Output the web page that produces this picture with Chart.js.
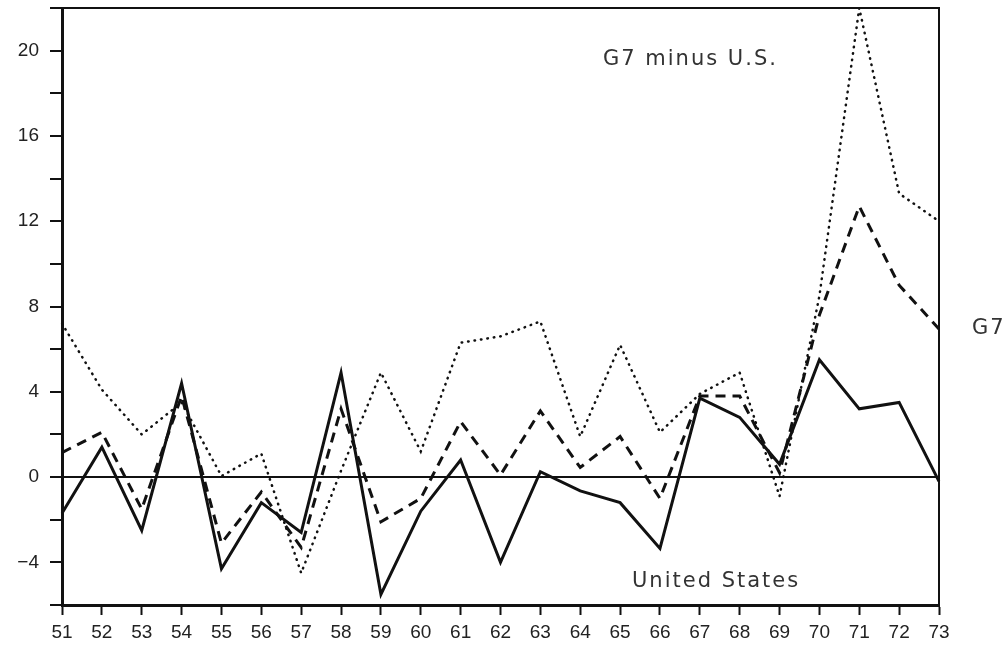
<!DOCTYPE html>
<html lang="en">
<head>
  <meta charset="UTF-8" />
  <title>G7 and United States</title>
  <script src="https://cdn.jsdelivr.net/npm/chart.js"></script>
  <style>
    body {
      margin: 0;
      background: #fff;
    }
    .wrap {
      width: 1002px;
      height: 646px;
    }
  </style>
</head>
<body>
  <div class="wrap">
    <canvas id="chart"></canvas>
  </div>

  <script>
    const years = ['51', '52', '53', '54', '55', '56', '57', '58', '59', '60', '61', '62',
                   '63', '64', '65', '66', '67', '68', '69', '70', '71', '72', '73'];
    const unitedStates = [-1.7, 1.4, -2.5, 4.4, -4.3, -1.2, -2.6, 4.9, -5.5, -1.6, 0.8, -4.0,
                          0.25, -0.65, -1.2, -3.35, 3.7, 2.8, 0.6, 5.5, 3.2, 3.5, -0.2];
    const g7 = [1.15, 2.1, -1.5, 3.8, -3.1, -0.7, -3.3, 3.2, -2.1, -1.0, 2.6, 0.1,
                3.1, 0.45, 1.9, -1.0, 3.8, 3.8, 0.2, 7.6, 12.7, 9.0, 6.95];
    const g7MinusUS = [7.2, 4.1, 2.0, 3.5, 0.05, 1.1, -4.5, 0.3, 4.9, 1.2, 6.3, 6.6,
                       7.3, 1.9, 6.2, 2.1, 3.9, 4.9, -0.9, 8.5, 22, 13.3, 12.0];

    const ink = '#111';
    const labelFont = '21px "DejaVu Sans"';

    // frame on top/right and the three text labels
    const framePlugin = {
      id: 'frame',
      afterDatasetsDraw(chart) {
        const { ctx, chartArea: a, scales } = chart;
        ctx.save();
        ctx.strokeStyle = ink;
        ctx.lineWidth = 2;
        ctx.beginPath();
        ctx.moveTo(a.left - 12, a.top);
        ctx.lineTo(a.right, a.top);
        ctx.lineTo(a.right, a.bottom);
        ctx.stroke();

        ctx.fillStyle = '#333';
        ctx.font = labelFont;
        ctx.letterSpacing = '2px';
        ctx.textBaseline = 'middle';
        ctx.textAlign = 'left';
        ctx.fillText('G7 minus U.S.', 603, 60);
        ctx.fillText('United States', 632, 582);
        const yG7 = scales.y.getPixelForValue(g7[g7.length - 1]);
        ctx.fillText('G7', 972, yG7);
        ctx.restore();
      }
    };

    new Chart(document.getElementById('chart'), {
      type: 'line',
      data: {
        labels: years,
        datasets: [
          {
            label: 'United States',
            data: unitedStates,
            borderColor: ink,
            borderWidth: 3,
            pointRadius: 0,
            tension: 0
          },
          {
            label: 'G7',
            data: g7,
            borderColor: ink,
            borderWidth: 3,
            borderDash: [10, 7],
            pointRadius: 0,
            tension: 0
          },
          {
            label: 'G7 minus U.S.',
            data: g7MinusUS,
            borderColor: ink,
            borderWidth: 2.5,
            borderDash: [0.5, 6],
            borderCapStyle: 'round',
            pointRadius: 0,
            tension: 0
          }
        ]
      },
      options: {
        responsive: true,
        maintainAspectRatio: false,
        animation: false,
        layout: { padding: { top: 8, right: 63, left: 0, bottom: 0 } },
        plugins: {
          legend: { display: false },
          tooltip: { enabled: false }
        },
        scales: {
          x: {
            offset: false,
            afterFit(scale) { scale.height = 41; },
            border: { display: true, color: ink, width: 3 },
            grid: {
              drawOnChartArea: false,
              tickLength: 10,
              tickWidth: 2,
              tickColor: ink,
              offset: false
            },
            ticks: {
              color: '#222',
              padding: 6,
              maxRotation: 0,
              autoSkip: false,
              font: { family: '"Liberation Sans"', size: 19 }
            }
          },
          y: {
            min: -6,
            max: 22,
            afterFit(scale) {
              scale.width = 62;
              scale.paddingTop = 0;
              scale.paddingBottom = 0;
            },
            border: { display: true, color: ink, width: 3 },
            grid: {
              drawOnChartArea: true,
              color: ctx => (ctx.tick && ctx.tick.value === 0 ? ink : 'rgba(0,0,0,0)'),
              lineWidth: 2,
              tickLength: 12,
              tickWidth: 2,
              tickColor: ink
            },
            ticks: {
              stepSize: 2,
              color: '#222',
              padding: 11,
              font: { family: '"Liberation Sans"', size: 19 },
              callback: v => (v % 4 === 0 ? String(v).replace('-', '\u2212') : '')
            }
          }
        }
      },
      plugins: [framePlugin]
    });
  </script>
</body>
</html>
